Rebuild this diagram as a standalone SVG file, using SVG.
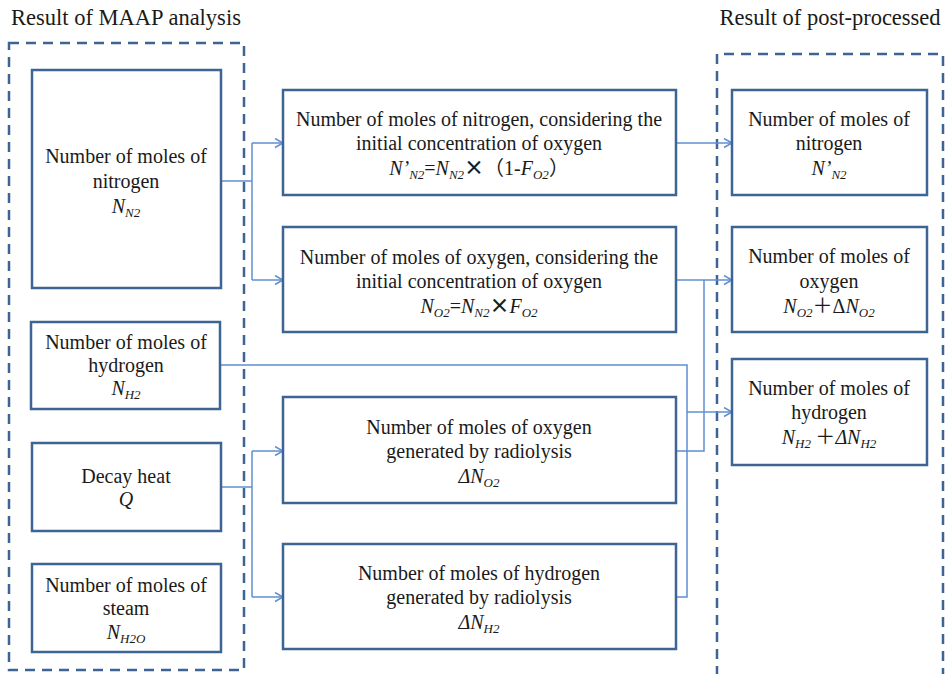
<svg xmlns="http://www.w3.org/2000/svg" width="947" height="674" viewBox="0 0 947 674">
<defs>
<style>
.box{fill:#fff;stroke:#3e6493;stroke-width:2.5}
.grp{fill:none;stroke:#3e6493;stroke-width:2.5;stroke-dasharray:10 7}
.con{fill:none;stroke:#5f8fd0;stroke-width:1.5}
text{font-family:"Liberation Serif","Noto Sans CJK SC",serif;font-size:20px;fill:#1a1a1a;text-anchor:middle}
.ttl{font-size:22.5px}
.i{font-style:italic}
.s{font-size:13px;font-style:italic}
.cjk{font-family:"Noto Sans CJK SC",sans-serif}
.x{font-family:"Noto Sans CJK SC",sans-serif;font-weight:bold}
</style>
<marker id="ah" markerWidth="12" markerHeight="12" refX="9" refY="5" orient="auto" markerUnits="userSpaceOnUse">
<path d="M1,0.5 L9,5 L1,9.5" fill="none" stroke="#5f8fd0" stroke-width="1.5"/>
</marker>
</defs>
<rect width="947" height="674" fill="#fff"/>

<g id="groups">
<text class="ttl" x="126" y="25">Result of MAAP analysis</text>
<rect class="grp" x="9" y="43" width="235" height="627"/>
<text class="ttl" x="830" y="25">Result of post-processed</text>
<path class="grp" d="M717,676 V54 H943 V676"/>
</g>

<g id="connectors">
<path class="con" d="M221,181 H252"/>
<path class="con" d="M252,143 V280"/>
<path class="con" d="M252,143 H283" marker-end="url(#ah)"/>
<path class="con" d="M252,280 H283" marker-end="url(#ah)"/>
<path class="con" d="M221,487 H252"/>
<path class="con" d="M252,451 V597"/>
<path class="con" d="M252,451 H283" marker-end="url(#ah)"/>
<path class="con" d="M252,597 H283" marker-end="url(#ah)"/>
<path class="con" d="M676,143 H732" marker-end="url(#ah)"/>
<path class="con" d="M676,280 H732" marker-end="url(#ah)"/>
<path class="con" d="M676,451 H704 V280"/>
<path class="con" d="M221,365 H687 V597 H676"/>
<path class="con" d="M687,412 H732" marker-end="url(#ah)"/>
</g>

<g id="n_left_n2">
<rect class="box" x="32" y="70" width="189" height="218"/>
<text x="126" y="163">Number of moles of</text>
<text x="126" y="188">nitrogen</text>
<text x="126" y="213"><tspan class="i">N</tspan><tspan class="s" dy="4">N2</tspan></text>
</g>

<g id="n_left_h2">
<rect class="box" x="31" y="322" width="189" height="87"/>
<text x="126" y="349">Number of moles of</text>
<text x="126" y="372">hydrogen</text>
<text x="126" y="395"><tspan class="i">N</tspan><tspan class="s" dy="4">H2</tspan></text>
</g>

<g id="n_left_q">
<rect class="box" x="32" y="443" width="189" height="88"/>
<text x="126" y="483">Decay heat</text>
<text x="126" y="506" class="i">Q</text>
</g>

<g id="n_left_steam">
<rect class="box" x="32" y="564" width="189" height="88"/>
<text x="126" y="592">Number of moles of</text>
<text x="126" y="615">steam</text>
<text x="126" y="639"><tspan class="i">N</tspan><tspan class="s" dy="4">H2O</tspan></text>
</g>

<g id="n_mid_n2">
<rect class="box" x="283" y="90" width="393" height="105"/>
<text x="479" y="126">Number of moles of nitrogen, considering the</text>
<text x="479" y="150">initial concentration of oxygen</text>
<text x="479" y="175"><tspan class="i">N’</tspan><tspan class="s" dy="4">N2</tspan><tspan dy="-4">=</tspan><tspan class="i">N</tspan><tspan class="s" dy="4">N2</tspan><tspan class="x" dy="-4">×</tspan><tspan class="cjk">（</tspan><tspan>1-</tspan><tspan class="i">F</tspan><tspan class="s" dy="4">O2</tspan><tspan class="cjk" dy="-4">）</tspan></text>
</g>

<g id="n_mid_o2">
<rect class="box" x="283" y="227" width="393" height="105"/>
<text x="479" y="264">Number of moles of oxygen, considering the</text>
<text x="479" y="288">initial concentration of oxygen</text>
<text x="479" y="313"><tspan class="i">N</tspan><tspan class="s" dy="4">O2</tspan><tspan dy="-4">=</tspan><tspan class="i">N</tspan><tspan class="s" dy="4">N2</tspan><tspan class="x" dy="-4">×</tspan><tspan class="i">F</tspan><tspan class="s" dy="4">O2</tspan></text>
</g>

<g id="n_mid_rad_o2">
<rect class="box" x="283" y="397" width="393" height="106"/>
<text x="479" y="434">Number of moles of oxygen</text>
<text x="479" y="458">generated by radiolysis</text>
<text x="479" y="483"><tspan class="i">ΔN</tspan><tspan class="s" dy="4">O2</tspan></text>
</g>

<g id="n_mid_rad_h2">
<rect class="box" x="283" y="544" width="393" height="105"/>
<text x="479" y="580">Number of moles of hydrogen</text>
<text x="479" y="604">generated by radiolysis</text>
<text x="479" y="629"><tspan class="i">ΔN</tspan><tspan class="s" dy="4">H2</tspan></text>
</g>

<g id="n_right_n2">
<rect class="box" x="732" y="90" width="195" height="105"/>
<text x="829" y="126">Number of moles of</text>
<text x="829" y="150">nitrogen</text>
<text x="829" y="175"><tspan class="i">N’</tspan><tspan class="s" dy="4">N2</tspan></text>
</g>

<g id="n_right_o2">
<rect class="box" x="732" y="227" width="195" height="105"/>
<text x="829" y="263">Number of moles of</text>
<text x="829" y="288">oxygen</text>
<text x="829" y="313"><tspan class="i">N</tspan><tspan class="s" dy="4">O2</tspan><tspan class="cjk" dy="-4">＋</tspan><tspan>Δ</tspan><tspan class="i">N</tspan><tspan class="s" dy="4">O2</tspan></text>
</g>

<g id="n_right_h2">
<rect class="box" x="732" y="359" width="195" height="106"/>
<text x="829" y="395">Number of moles of</text>
<text x="829" y="419">hydrogen</text>
<text x="829" y="444"><tspan class="i">N</tspan><tspan class="s" dy="4">H2</tspan><tspan class="cjk" dy="-4"> ＋</tspan><tspan class="i">ΔN</tspan><tspan class="s" dy="4">H2</tspan></text>
</g>
</svg>
